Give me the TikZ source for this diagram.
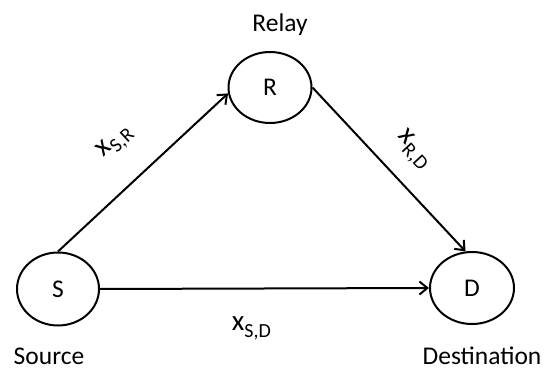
\documentclass[tikz,border=0pt]{standalone}
\usepackage{fontspec}
\setmainfont{Carlito}
\usetikzlibrary{shapes.geometric,arrows.meta}

\newcommand{\chan}[1]{{\fontsize{29}{30}\selectfont x}\raisebox{-7pt}{\fontsize{20}{22}\selectfont #1}}

\begin{document}
\begin{tikzpicture}[x=1pt,y=1pt,font=\fontsize{25.5}{30}\selectfont,
  terminal/.style={draw,ellipse,line width=2pt,inner sep=0pt},
  link/.style={-{Straight Barb[length=8pt,width=13pt]},line width=2pt},
  chanlbl/.style={inner sep=0pt},
  nodename/.style={anchor=base,inner sep=0pt}]
  \useasboundingbox (0,0) rectangle (549,367);
  \node[terminal,minimum width=82pt,minimum height=73pt] (S) at (58,78) {S};
  \node[terminal,minimum width=83pt,minimum height=71pt] (R) at (270,279.5) {R};
  \node[terminal,minimum width=84pt,minimum height=72pt] (D) at (472,79) {D};
  \node[nodename] (relayname) at (280,335) {Relay};
  \node[nodename] (sourcename) at (49,3) {Source};
  \node[nodename] (destname) at (482,3) {Destination};
  \draw[link] (S.north) -- (R.188)
    node[chanlbl,midway,sloped,above=28pt] (xsr) {\chan{S,R}};
  \draw[link] (R.east) -- (D.100)
    node[chanlbl,pos=0.51,sloped,above=18pt] (xrd) {\chan{R,D}};
  \draw[link] (S.east) -- (D.west)
    node[chanlbl,pos=0.46,below=27pt] (xsd) {\chan{S,D}};
\end{tikzpicture}
\end{document}
